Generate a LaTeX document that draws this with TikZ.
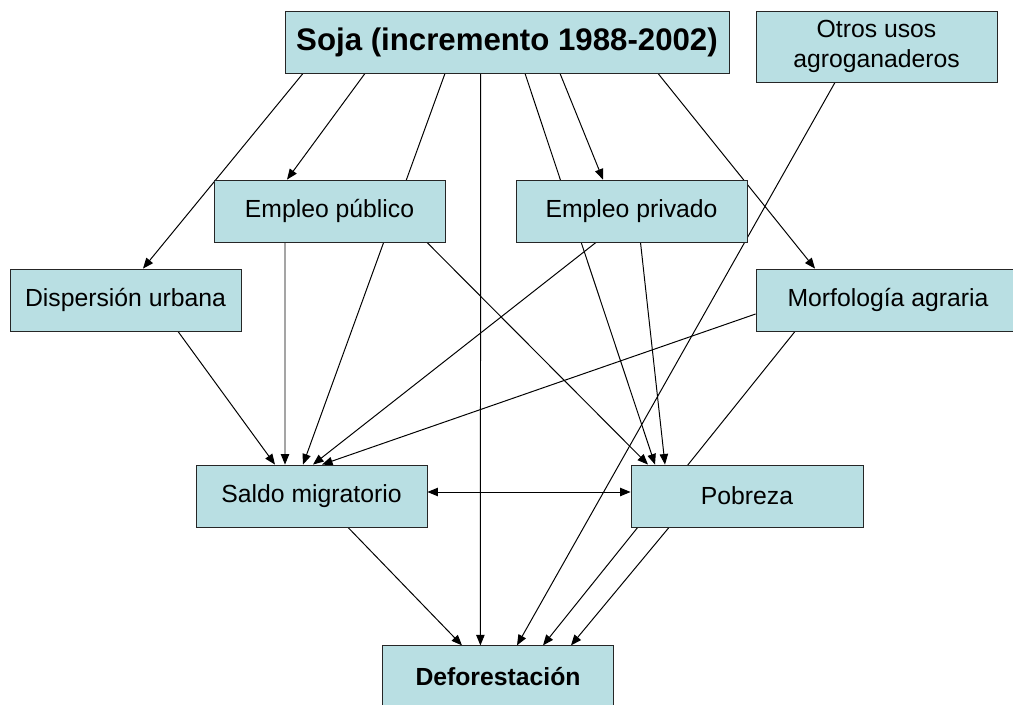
\documentclass[tikz,border=0pt]{standalone}
\usepackage{fontspec}
\setmainfont{Liberation Sans}
\usetikzlibrary{positioning, arrows.meta, backgrounds, calc}
\definecolor{boxfill}{RGB}{185,223,227}
\colorlet{rule}{black!85}
\tikzset{
  card/.style  ={draw=rule, fill=boxfill, line width=0.6pt, inner sep=0pt,
                 align=center, minimum width=5.775cm, minimum height=1.55cm,
                 font=\fontsize{17.6}{21.3}\selectfont},
  Ltop/.style  ={card, minimum width=11.1cm,
                 font=\fontsize{22.2}{26}\selectfont\bfseries},
  Lout/.style  ={card, font=\fontsize{17.6}{21.3}\selectfont\bfseries},
  cause/.style ={-{Triangle[length=7.5pt,width=6pt]}, line width=0.7pt},
  mutual/.style={{Triangle[length=7.5pt,width=6pt]}-{Triangle[length=7.5pt,width=6pt]},
                 line width=0.7pt},
}

\begin{document}
\begin{tikzpicture}
\useasboundingbox (0,0) rectangle (25.325,17.6);

\node[Ltop] (soja) at (12.675, 16.55) {Soja (incremento 1988-2002)};
\node[card, minimum width=6.025cm, minimum height=1.775cm] (otros)
  at (21.9125, 16.4375) {Otros usos\\agroganaderos};
\node[card] (pub)  at (8.2375, 12.325)  {Empleo público};
\node[card] (priv) at (15.7875, 12.325) {Empleo privado};
\node[card] (disp) at (3.1375, 10.1)    {Dispersión urbana};
\node[card, minimum width=6.6cm] (morf) at (22.2, 10.1) {Morfología agraria};
\node[card] (saldo) at (7.7875, 5.2)   {Saldo migratorio};
\node[card, minimum width=5.8cm] (pob) at (18.675, 5.2) {Pobreza};
\node[Lout] (defo) at (12.45, 0.68)    {Deforestación};

\begin{scope}[on background layer]
\fill[white] (0,0) rectangle (25.325,17.6);

% from soja
\draw[cause] ($(soja.south)+(-5.1,0)$)   -- ($(disp.north)+(0.4375,0)$);
\draw[cause] ($(soja.south)+(-3.55,0)$)  -- ($(pub.north)+(-1.0625,0)$);
\draw[cause] ($(soja.south)+(-1.55,0)$)  -- ($(saldo.north)+(-0.2125,0)$);
\draw[cause] ($(soja.south)+(-0.66,0)$)  -- ($(defo.north)+(-0.44,0)$);
\draw[cause] ($(soja.south)+(0.45,0)$)   -- ($(pob.north)+(-2.3,0)$);
\draw[cause] ($(soja.south)+(1.325,0)$)  -- ($(priv.north)+(-0.7125,0)$);
\draw[cause] ($(soja.south)+(3.775,0)$)  -- ($(morf.north)+(-1.825,0)$);

% from otros
\draw[cause] ($(otros.south)+(-1.0375,0)$) -- ($(defo.north)+(0.475,0)$);

% employment
\draw[cause] ($(pub.south)+(-1.1125,0)$) -- ($(saldo.north)+(-0.6625,0)$);
\draw[cause] ($(pub.south)+(2.4375,0)$)  -- ($(pob.north)+(-2.475,0)$);
\draw[cause] ($(priv.south)+(-0.8875,0)$) -- ($(saldo.north)+(0.0375,0)$);
\draw[cause] ($(priv.south)+(0.225,0)$)   -- ($(pob.north)+(-2.05,0)$);

% dispersion and morphology
\draw[cause] ($(disp.south)+(1.3125,0)$) -- ($(saldo.north)+(-0.9125,0)$);
\draw[cause] ($(morf.west)+(0,-0.35)$)   -- ($(saldo.north)+(0.2625,0)$);
\draw[cause] ($(morf.south)+(-2.325,0)$) -- ($(defo.north)+(1.125,0)$);

% towards deforestation
\draw[mutual] ($(saldo.east)+(0,0.1)$) -- ($(pob.west)+(0,0.1)$);
\draw[cause] ($(saldo.south)+(0.9125,0)$) -- ($(defo.north)+(-0.9,0)$);
\draw[cause] ($(pob.south)+(-1.95,0)$)    -- ($(defo.north)+(1.825,0)$);
\end{scope}

\end{tikzpicture}
\end{document}
